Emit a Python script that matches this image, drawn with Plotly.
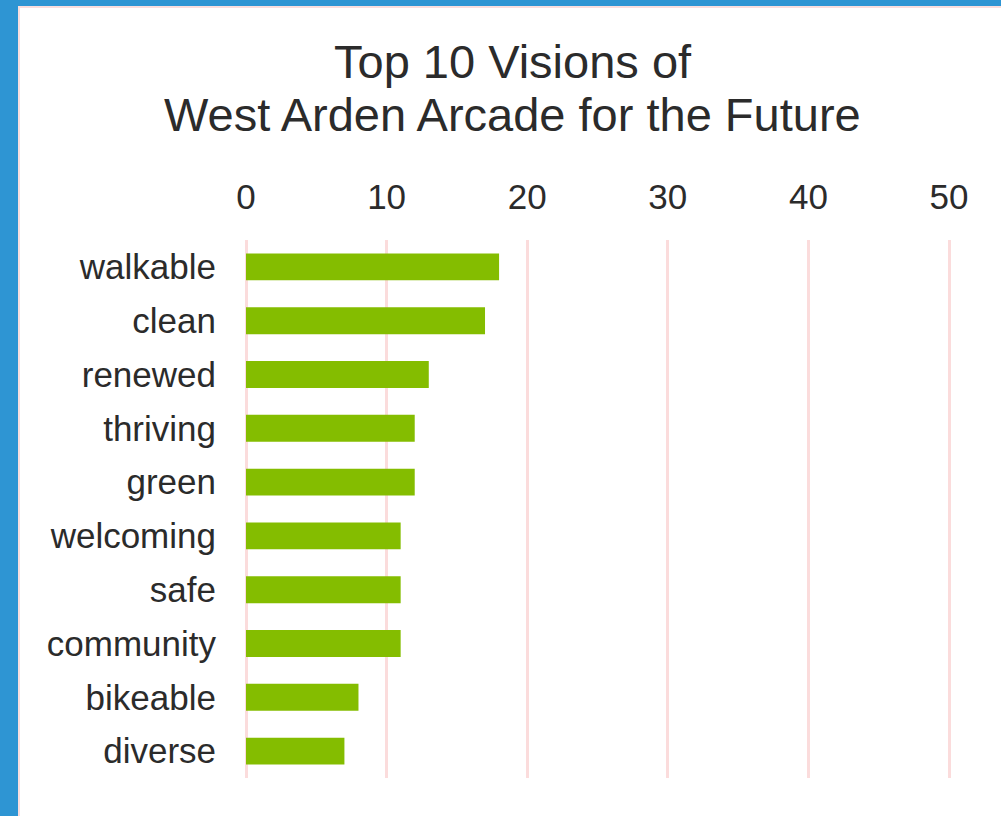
import plotly.graph_objects as go

categories = ["walkable", "clean", "renewed", "thriving", "green",
              "welcoming", "safe", "community", "bikeable", "diverse"]
values = [18, 17, 13, 12, 12, 11, 11, 11, 8, 7]
tick_vals = [0, 10, 20, 30, 40, 50]
title_line1 = "Top 10 Visions of"
title_line2 = "West Arden Arcade for the Future"

W, H = 1001, 816
L, R, T, B = 246, 0, 240, 38
PW = W - L - R
PH = H - T - B

def px_x(p):
    return (p - L) / PW

def px_y(p):
    return (H - B - p) / PH

FONT = "Liberation Sans, Arial, sans-serif"
GRID = "#fbdcdc"
TXT = "#2b2b2b"

fig = go.Figure(go.Bar(
    x=values, y=categories, orientation="h",
    marker=dict(color="#84bd00", line=dict(width=0)),
))

fig.update_layout(
    width=W, height=H,
    margin=dict(l=L, r=R, t=T, b=B, autoexpand=False),
    paper_bgcolor="#2e95d3",
    plot_bgcolor="rgba(0,0,0,0)",
    bargap=0.5,
    showlegend=False,
    font=dict(family=FONT, color=TXT),
    xaxis=dict(
        side="top", range=[0, PW / 14.06], tickvals=tick_vals,
        showgrid=True, gridcolor=GRID, gridwidth=3,
        zeroline=True, zerolinecolor=GRID, zerolinewidth=3,
        showline=False, ticks="", tickfont=dict(size=35, family=FONT, color=TXT),
        ticklabelstandoff=23, fixedrange=True,
    ),
    yaxis=dict(
        autorange="reversed", showgrid=False, zeroline=False, showline=False,
        ticks="", tickfont=dict(size=35, family=FONT, color=TXT),
        ticklabelstandoff=29, fixedrange=True,
    ),
    shapes=[dict(
        type="rect", xref="paper", yref="paper", layer="below",
        x0=px_x(19), x1=px_x(1020), y0=px_y(7), y1=px_y(840),
        fillcolor="white", line=dict(color="#f9dede", width=2),
    )],
    annotations=[
        dict(text=title_line1, xref="paper", yref="paper", x=px_x(513), y=px_y(62),
             xanchor="center", yanchor="middle", showarrow=False,
             font=dict(size=47, family=FONT, color=TXT)),
        dict(text=title_line2, xref="paper", yref="paper", x=px_x(512.5), y=px_y(115),
             xanchor="center", yanchor="middle", showarrow=False,
             font=dict(size=47, family=FONT, color=TXT)),
    ],
)

fig.write_html("out.html", config={"displayModeBar": False},
               post_script="document.body.style.margin='0';document.body.style.padding='0';")
